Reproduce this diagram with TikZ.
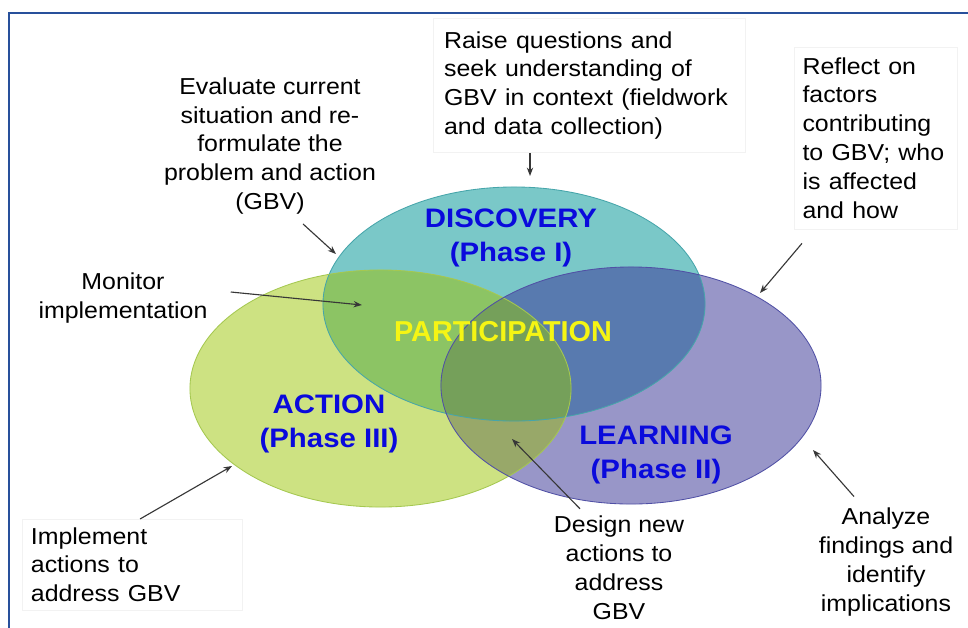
\documentclass[tikz,border=0pt]{standalone}
\usepackage{fontspec}
\setmainfont{Liberation Sans}
\usetikzlibrary{arrows.meta}
\definecolor{discfill}{RGB}{122,200,200}
\definecolor{actfill}{RGB}{205,226,130}
\definecolor{learnfill}{RGB}{152,150,200}
\definecolor{discact}{RGB}{140,196,100}
\definecolor{disclearn}{RGB}{88,122,175}
\definecolor{actlearn}{RGB}{152,168,105}
\definecolor{allthree}{RGB}{117,160,90}
\definecolor{discline}{RGB}{70,165,170}
\definecolor{actline}{RGB}{165,200,80}
\definecolor{learnline}{RGB}{80,80,165}
\definecolor{phaseblue}{RGB}{10,10,220}
\definecolor{partyellow}{RGB}{245,245,20}
\definecolor{framecol}{RGB}{40,80,155}
\definecolor{arrowgray}{RGB}{55,55,55}
\def\discpath{(514,304) ellipse (4.775cm and 2.925cm)}
\def\actpath{(380.5,388.5) ellipse (4.7625cm and 2.9625cm)}
\def\learnpath{(631,385.5) ellipse (4.75cm and 2.9625cm)}
\begin{document}
\begin{tikzpicture}[x=0.025cm,y=-0.025cm,
    note/.style={font=\fontsize{16.4}{20.6}\selectfont, xscale=1.08, align=center, inner sep=0pt},
    notebox/.style={note, align=left, draw=black!5, anchor=north west},
    phase/.style={font=\fontsize{19}{24}\selectfont\bfseries, text=phaseblue, align=center, xscale=1.1, inner sep=0pt},
    pointer/.style={draw=arrowgray, line width=0.8pt, -{Stealth[length=6pt,width=4.5pt]}}]
    \useasboundingbox[fill=white] (0,0) rectangle (968,627);
    \draw[framecol, line width=1.4pt] (9,660) -- (9,13) -- (990,13);
    % the three phases
    \fill[discfill] \discpath;
    \fill[actfill] \actpath;
    \fill[learnfill] \learnpath;
    \begin{scope}
        \clip \discpath;
        \fill[discact] \actpath;
        \fill[disclearn] \learnpath;
    \end{scope}
    \begin{scope}
        \clip \actpath;
        \fill[actlearn] \learnpath;
    \end{scope}
    \begin{scope}
        \clip \discpath;
        \clip \actpath;
        \fill[allthree] \learnpath;
    \end{scope}
    \draw[discline, line width=0.6pt] \discpath;
    \draw[actline, line width=0.6pt] \actpath;
    \draw[learnline, line width=0.6pt] \learnpath;
    \node[phase] (disc) at (511,238) {DISCOVERY\\(Phase I)};
    \node[phase] (act) at (329,424) {ACTION\\(Phase III)};
    \node[phase] (learn) at (656,455) {LEARNING\\(Phase II)};
    \node[font=\fontsize{20.5}{24}\selectfont\bfseries, text=partyellow, inner sep=0pt] (part) at (503,332) {PARTICIPATION};
    % notes round the circles
    \node[note] (eval) at (270,146) {Evaluate current\\situation and re-\\formulate the\\problem and action\\(GBV)};
    \node[note] (monitor) at (123,298) {Monitor\\implementation};
    \node[notebox, inner xsep=0.25cm, inner ysep=0.325cm, text width=6.725cm] (raise) at (433,18) {Raise questions and\\seek understanding of\\GBV in context (fieldwork\\and data collection)};
    \node[notebox, inner xsep=0.19cm, inner ysep=0.25cm, text width=3.4cm] (reflect) at (794,47) {Reflect on\\factors\\contributing\\to GBV; who\\is affected\\and how};
    \node[notebox, inner xsep=0.2cm, inner ysep=0.2cm, text width=4.7cm] (implement) at (22,519) {Implement\\actions to\\address GBV};
    \node[note] (design) at (619,568) {Design new\\actions to\\address\\GBV};
    \node[note] (analyze) at (886,562) {Analyze\\findings and\\identify\\implications};
    \coordinate (evaltip) at (336,254);
    \coordinate (monitortip) at (362,305);
    \coordinate (raisetip) at (530,176);
    \coordinate (reflecttip) at (760,293);
    \coordinate (implementtip) at (232,466);
    \coordinate (designtip) at (512,439);
    \coordinate (analyzetip) at (813,450);
    \draw[pointer] ([xshift=0.825cm,yshift=-0.225cm]eval.south) -- (evaltip);
    \draw[pointer] ([xshift=0.575cm,yshift=0.15cm]monitor.east) -- (monitortip);
    \draw[pointer] (raise.south -| raisetip) -- (raisetip);
    \draw[pointer] ([xshift=0.2cm,yshift=-0.35cm]reflect.south west) -- (reflecttip);
    \draw[pointer] ([xshift=2.95cm]implement.north west) -- (implementtip);
    \draw[pointer] ([xshift=-0.975cm,yshift=0.175cm]design.north) -- (designtip);
    \draw[pointer] ([xshift=-0.8cm,yshift=0.275cm]analyze.north) -- (analyzetip);
\end{tikzpicture}
\end{document}
